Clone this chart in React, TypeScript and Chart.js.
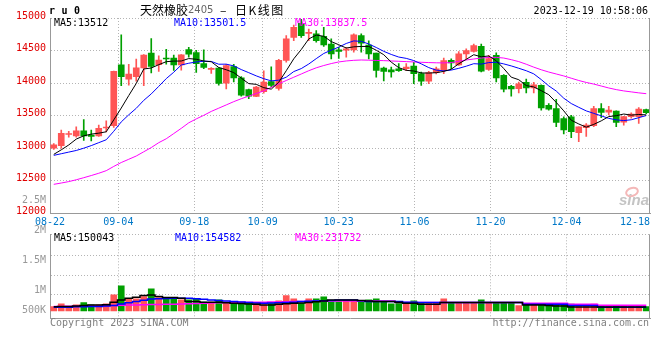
import React, { useEffect, useRef } from 'react';
import { Chart, registerables } from 'chart.js';
Chart.register(...registerables);

const dates = [
  '08-22','08-23','08-24','08-25','08-28','08-29','08-30','08-31','09-01',
  '09-04','09-05','09-06','09-07','09-08','09-11','09-12','09-13','09-14','09-15',
  '09-18','09-19','09-20','09-21','09-22','09-25','09-26','09-27','09-28',
  '10-09','10-10','10-11','10-12','10-13','10-16','10-17','10-18','10-19','10-20',
  '10-23','10-24','10-25','10-26','10-27','10-30','10-31','11-01','11-02','11-03',
  '11-06','11-07','11-08','11-09','11-10','11-13','11-14','11-15','11-16','11-17',
  '11-20','11-21','11-22','11-23','11-24','11-27','11-28','11-29','11-30','12-01',
  '12-04','12-05','12-06','12-07','12-08','12-11','12-12','12-13','12-14','12-15',
  '12-18','12-19'
];

const opens = [13000,13040,13210,13190,13265,13200,13190,13310,13345,14280,14060,14100,14235,14460,14285,14380,14385,14280,14515,14470,14300,14210,14230,14000,14255,14080,13900,13795,13870,14025,13920,14350,14700,14920,14765,14755,14720,14600,14510,14505,14510,14730,14585,14460,14230,14205,14220,14220,14260,14145,14030,14160,14195,14350,14280,14450,14485,14565,14210,14425,14120,13950,13915,14010,13925,13965,13660,13610,13455,13480,13240,13315,13345,13610,13555,13570,13400,13485,13485,13595];
const highs = [13070,13280,13260,13330,13440,13280,13355,13420,14185,14740,14290,14370,14440,14685,14420,14520,14430,14440,14550,14505,14510,14240,14240,14290,14290,14100,13910,13950,14190,14250,14365,14730,14890,14980,14830,14805,14855,14680,14550,14550,14755,14755,14650,14460,14246,14246,14300,14300,14320,14170,14180,14245,14383,14373,14485,14525,14600,14600,14425,14465,14130,13965,14017,14060,14010,13975,13685,13750,13480,13505,13330,13380,13645,13685,13645,13575,13490,13545,13625,13600];
const lows = [12980,13000,13170,13170,13120,13110,13180,13250,13320,13960,13970,14030,13960,14155,14180,14290,14195,14200,14400,14165,14220,14150,13970,13910,14020,13800,13760,13790,13845,13940,13890,14322,14650,14700,14650,14630,14565,14370,14380,14400,14475,14475,14370,14093,14032,14093,14180,14190,13990,13965,13990,14140,14145,14220,14270,14373,14475,14170,14195,14017,13865,13800,13850,13850,13850,13585,13585,13330,13220,13160,13100,13180,13330,13470,13510,13330,13355,13460,13380,13530];
const closes = [13050,13230,13215,13265,13190,13180,13305,13320,14180,14100,14140,14235,14430,14255,14355,14370,14280,14435,14445,14300,14240,14220,13995,14270,14080,13815,13800,13940,14015,13965,14350,14680,14855,14730,14775,14650,14585,14450,14485,14525,14740,14615,14450,14195,14180,14170,14190,14245,14145,14030,14160,14220,14345,14310,14450,14500,14575,14185,14375,14080,13905,13910,13990,13925,13975,13620,13600,13395,13280,13255,13330,13355,13610,13550,13585,13395,13485,13525,13600,13545];

const ma5 = [12905,12975,13050,13140,13190,13216,13231,13252,13435,13617,13809,13995,14217,14232,14283,14329,14338,14339,14377,14366,14340,14328,14240,14205,14161,14076,13992,13981,13930,13907,14014,14190,14373,14516,14678,14738,14719,14638,14589,14539,14557,14563,14563,14505,14436,14322,14237,14196,14186,14156,14154,14160,14180,14213,14297,14365,14436,14404,14417,14343,14224,14091,14052,13962,13941,13884,13822,13703,13574,13430,13372,13323,13366,13420,13486,13499,13525,13508,13518,13512];
const ma10 = [12890,12915,12940,12965,13000,13040,13085,13130,13260,13404,13513,13613,13735,13834,13950,14069,14167,14278,14305,14325,14335,14333,14290,14291,14264,14208,14160,14111,14068,14034,14045,14091,14177,14223,14293,14376,14455,14506,14553,14609,14648,14641,14601,14547,14488,14440,14400,14380,14346,14296,14238,14199,14188,14200,14227,14260,14298,14292,14315,14320,14295,14264,14228,14190,14142,14054,13957,13878,13768,13686,13628,13573,13535,13497,13458,13436,13424,13437,13469,13501.5];
const ma30 = [12445,12465,12487,12515,12547,12580,12615,12655,12720,12780,12830,12880,12945,13010,13085,13145,13225,13305,13390,13450,13505,13565,13615,13665,13715,13760,13800,13840,13880,13935,13990,14040,14090,14140,14190,14235,14270,14300,14325,14340,14350,14355,14352,14348,14345,14340,14335,14330,14325,14320,14315,14312,14310,14315,14335,14355,14370,14385,14395,14395,14385,14360,14330,14290,14245,14205,14170,14140,14110,14075,14040,14010,13985,13955,13925,13900,13880,13865,13850,13837.5];

const volumes = [702000,770000,702000,745000,804000,745000,745000,770000,1000000,1230000,916000,898000,957000,1153000,931000,916000,898000,873000,873000,898000,814000,814000,873000,814000,788000,788000,788000,788000,745000,804000,847000,982000,898000,788000,898000,898000,949000,829000,829000,847000,847000,829000,873000,898000,814000,770000,804000,788000,847000,804000,788000,788000,898000,788000,788000,788000,788000,873000,788000,804000,788000,788000,727000,763000,745000,788000,745000,745000,745000,763000,702000,702000,763000,702000,702000,727000,727000,727000,727000,702000];
const vma5 = [700000,705000,705000,715000,730000,740000,740000,750000,814000,873000,915000,941000,983000,1000000,957000,932000,932000,915000,830000,830000,814000,814000,814000,800000,788000,780000,770000,760000,745000,745000,762000,775000,788000,795000,804000,825000,847000,873000,873000,873000,873000,860000,845000,830000,830000,830000,810000,788000,788000,762000,762000,762000,804000,804000,804000,804000,804000,804000,804000,804000,804000,804000,804000,745000,745000,745000,730000,719000,719000,694000,694000,694000,694000,694000,690000,690000,690000,690000,690000,690000];
const vma10 = [686000,686000,686000,695000,700000,702000,705000,715000,728000,770000,800000,830000,865000,898000,905000,910000,915000,915000,915000,900000,889000,870000,855000,842000,830000,817000,804000,796000,788000,795000,800000,804000,815000,830000,838000,847000,851000,855000,873000,873000,873000,850000,830000,830000,830000,830000,830000,815000,810000,804000,804000,804000,804000,804000,804000,804000,804000,804000,804000,804000,804000,804000,804000,762000,762000,762000,762000,762000,762000,728000,728000,728000,728000,686000,686000,686000,686000,686000,686000,686000];
const vma30 = [702000,705000,708000,711000,714000,717000,719000,724000,729000,734000,740000,745000,748000,752000,755000,759000,762000,768000,775000,781000,788000,795000,802000,808000,814000,814000,814000,814000,814000,818000,822000,826000,830000,830000,835000,840000,844000,847000,847000,847000,847000,847000,847000,847000,847000,847000,804000,804000,804000,804000,804000,804000,804000,804000,804000,804000,804000,804000,804000,804000,804000,804000,804000,788000,788000,788000,788000,788000,788000,762000,762000,762000,762000,736000,736000,736000,736000,736000,736000,736000];

const xTickLabels = ['08-22','09-04','09-18','10-09','10-23','11-06','11-20','12-04','12-18'];
const priceTicks = [12000, 12500, 13000, 13500, 14000, 14500, 15000];
const volGridValues = [1000000, 1500000, 2000000];
const volAxisLabels = ['2.5M', '2M', '1.5M', '1M', '500K'];
const maLabels = ['MA5:13512', 'MA10:13501.5', 'MA30:13837.5'];
const volMaLabels = ['MA5:150043', 'MA10:154582', 'MA30:231732'];
const titleParts = ['天然橡胶', '2405', '–', '日K线图'];
const symbol = 'ru0';
const timestamp = '2023-12-19 10:58:06';
const copyright = 'Copyright 2023 SINA.COM';
const siteUrl = 'http://finance.sina.com.cn';

const RED = '#ff5555';
const GREEN = '#00a000';
const MONO = '"DejaVu Sans Mono", monospace';
const CJK = '"Noto Sans CJK SC", sans-serif';
const GRID = '#b4b4b4';
const BORDER = '#999999';

function txt(ctx: CanvasRenderingContext2D, s: string, x: number, y: number, color: string, font: string, align: CanvasTextAlign = 'left', spacing = '0px') {
  ctx.save();
  ctx.font = font;
  ctx.fillStyle = color;
  ctx.textAlign = align;
  ctx.textBaseline = 'middle';
  try { (ctx as any).letterSpacing = spacing; } catch (e) {}
  ctx.fillText(s, x, y);
  ctx.restore();
}

export default function App() {
  const mainRef = useRef<HTMLCanvasElement>(null);
  const volRef = useRef<HTMLCanvasElement>(null);

  useEffect(() => {
    document.body.style.margin = '0';
    const n = dates.length;
    const colors = closes.map((c, i) => (c >= opens[i] ? RED : GREEN));
    const tickVals = xTickLabels.map((l) => {
      const idx = dates.indexOf(l);
      return Math.min((idx * n) / (n - 1), n - 2);
    });
    const lastClamped = (i: number) => i === xTickLabels.length - 1;

    const rightBorder = (chart: any) => {
      const ctx = chart.ctx as CanvasRenderingContext2D;
      const a = chart.chartArea;
      ctx.save();
      ctx.strokeStyle = BORDER;
      ctx.lineWidth = 1;
      ctx.beginPath();
      ctx.moveTo(Math.round(a.right) - 0.5, a.top);
      ctx.lineTo(Math.round(a.right) - 0.5, a.bottom);
      ctx.stroke();
      ctx.restore();
    };

    const mainPlugin = {
      id: 'mainText',
      afterDraw(chart: any) {
        const ctx = chart.ctx as CanvasRenderingContext2D;
        rightBorder(chart);
        txt(ctx, symbol, 49, 11.5, '#000', 'bold 10px ' + MONO, 'left', '6.5px');
        txt(ctx, titleParts[0], 140, 10, '#000', '12px ' + CJK);
        txt(ctx, titleParts[1], 188, 10.5, '#666', '10px "DejaVu Sans", sans-serif');
        txt(ctx, titleParts[2], 220, 10, '#000', '12px ' + CJK);
        txt(ctx, titleParts[3], 235, 10, '#000', '12px ' + CJK, 'left', '1.5px');
        txt(ctx, timestamp, 648, 11.5, '#000', '10px ' + MONO, 'right');
        txt(ctx, maLabels[0], 54, 23.5, '#000', '10px ' + MONO);
        txt(ctx, maLabels[1], 174, 23.5, '#0000ff', '10px ' + MONO);
        txt(ctx, maLabels[2], 295, 23.5, '#ff00ff', '10px ' + MONO);
        ctx.save();
        ctx.strokeStyle = '#f4b8b8';
        ctx.lineWidth = 2;
        ctx.beginPath();
        ctx.ellipse(632, 192, 6, 4, -0.3, 0, Math.PI * 2);
        ctx.stroke();
        ctx.restore();
        txt(ctx, 'sina', 619, 201, '#c4c4c4', 'italic bold 15px "Liberation Sans", sans-serif');
      },
    };

    const volPlugin = {
      id: 'volText',
      afterDraw(chart: any) {
        const ctx = chart.ctx as CanvasRenderingContext2D;
        rightBorder(chart);
        txt(ctx, volMaLabels[0], 54, 238.5, '#000', '10px ' + MONO);
        txt(ctx, volMaLabels[1], 175, 238.5, '#0000ff', '10px ' + MONO);
        txt(ctx, volMaLabels[2], 295, 238.5, '#ff00ff', '10px ' + MONO);
        const ys = [200.3, 230, 260, 290.8, 310.8];
        volAxisLabels.forEach((l, i) => txt(ctx, l, 46, ys[i], '#999', '10px ' + MONO, 'right'));
        txt(ctx, copyright, 50, 323.5, '#808080', '10px ' + MONO);
        txt(ctx, siteUrl, 649, 323.5, '#808080', '10px ' + MONO, 'right');
      },
    };

    const xgScale = (showLabels: boolean) => ({
      type: 'linear',
      position: 'bottom',
      min: 0,
      max: n,
      offset: false,
      bounds: 'ticks',
      grace: 0,
      afterBuildTicks: (s: any) => { s.ticks = tickVals.map((v) => ({ value: v })); },
      afterFit: (s: any) => { s.height = showLabels ? 20 : 0; },
      ticks: {
        display: showLabels,
        autoSkip: false,
        maxRotation: 0,
        padding: 3,
        color: '#0078c8',
        font: { size: 10, family: MONO },
        callback: (_v: any, i: number) => xTickLabels[i],
      },
      grid: {
        offset: false,
        drawTicks: false,
        lineWidth: 1,
        color: (c: any) => (lastClamped(c.index) ? 'rgba(0,0,0,0)' : GRID),
      },
      border: { display: true, color: BORDER, width: 1, dash: [1, 2] },
    });

    const main = new Chart(mainRef.current as HTMLCanvasElement, {
      type: 'bar',
      data: {
        labels: dates,
        datasets: [
          { type: 'line', label: 'MA5', data: ma5, borderColor: '#000000', borderWidth: 1, pointRadius: 0, tension: 0, order: 0 },
          { type: 'line', label: 'MA10', data: ma10, borderColor: '#0000ff', borderWidth: 1, pointRadius: 0, tension: 0, order: 0 },
          { type: 'line', label: 'MA30', data: ma30, borderColor: '#ff00ff', borderWidth: 1, pointRadius: 0, tension: 0, order: 0 },
          { type: 'bar', label: 'body', data: opens.map((o, i) => [Math.min(o, closes[i]), Math.max(o, closes[i])]), backgroundColor: colors, barThickness: 6, minBarLength: 1, grouped: false, order: 1 },
          { type: 'bar', label: 'wick', data: lows.map((l, i) => [l, highs[i]]), backgroundColor: colors, barThickness: 1, grouped: false, order: 2 },
        ] as any,
      },
      options: {
        responsive: false,
        animation: false,
        events: [],
        layout: { padding: { top: 18, right: 10, bottom: 126.7, left: 0 } },
        plugins: { legend: { display: false }, tooltip: { enabled: false } },
        scales: {
          x: { type: 'category', display: false, offset: true },
          xg: xgScale(true),
          y: {
            type: 'linear',
            position: 'left',
            min: priceTicks[0],
            max: priceTicks[priceTicks.length - 1],
            afterBuildTicks: (s: any) => { s.ticks = priceTicks.map((v) => ({ value: v })); },
            afterFit: (s: any) => { s.width = 50; },
            ticks: { color: '#e00000', font: { size: 10, family: MONO }, padding: 4, labelOffset: -2, callback: (v: any) => String(v) },
            grid: { drawTicks: false, color: GRID, lineWidth: 1 },
            border: { display: true, color: BORDER, width: 1, dash: [1, 2] },
          },
        } as any,
      },
      plugins: [mainPlugin],
    });

    const vol = new Chart(volRef.current as HTMLCanvasElement, {
      type: 'bar',
      data: {
        labels: dates,
        datasets: [
          { type: 'line', label: 'VMA5', data: vma5, borderColor: '#000000', borderWidth: 1.5, stepped: 'middle', pointRadius: 0, yAxisID: 'vy', order: 0 },
          { type: 'line', label: 'VMA10', data: vma10, borderColor: '#0000ff', borderWidth: 1.5, stepped: 'middle', pointRadius: 0, yAxisID: 'vy', order: 0 },
          { type: 'line', label: 'VMA30', data: vma30, borderColor: '#ff00ff', borderWidth: 1.5, stepped: 'middle', pointRadius: 0, yAxisID: 'vy', order: 0 },
          { type: 'bar', label: 'vol', data: volumes, backgroundColor: colors, barThickness: 6, base: 590000, grouped: false, yAxisID: 'vy', order: 1 },
        ] as any,
      },
      options: {
        responsive: false,
        animation: false,
        events: [],
        layout: { padding: { top: 234.3, right: 10, bottom: 42, left: 0 } },
        plugins: { legend: { display: false }, tooltip: { enabled: false } },
        scales: {
          x: { type: 'category', display: false, offset: true },
          xg: xgScale(false),
          vy: {
            type: 'linear',
            position: 'left',
            min: 410000,
            max: 2550000,
            afterBuildTicks: (s: any) => { s.ticks = [...volGridValues, 2550000].map((v) => ({ value: v })); },
            afterFit: (s: any) => { s.width = 50; },
            ticks: { display: false },
            grid: { drawTicks: false, color: GRID, lineWidth: 1 },
            border: { display: true, color: BORDER, width: 1, dash: [1, 2] },
          },
        } as any,
      },
      plugins: [volPlugin],
    });

    return () => { main.destroy(); vol.destroy(); };
  }, []);

  return (
    <div style={{ position: 'relative', width: 660, height: 360, background: '#fff' }}>
      <canvas ref={mainRef} width={660} height={360} style={{ position: 'absolute', left: 0, top: 0 }} />
      <canvas ref={volRef} width={660} height={360} style={{ position: 'absolute', left: 0, top: 0 }} />
    </div>
  );
}
